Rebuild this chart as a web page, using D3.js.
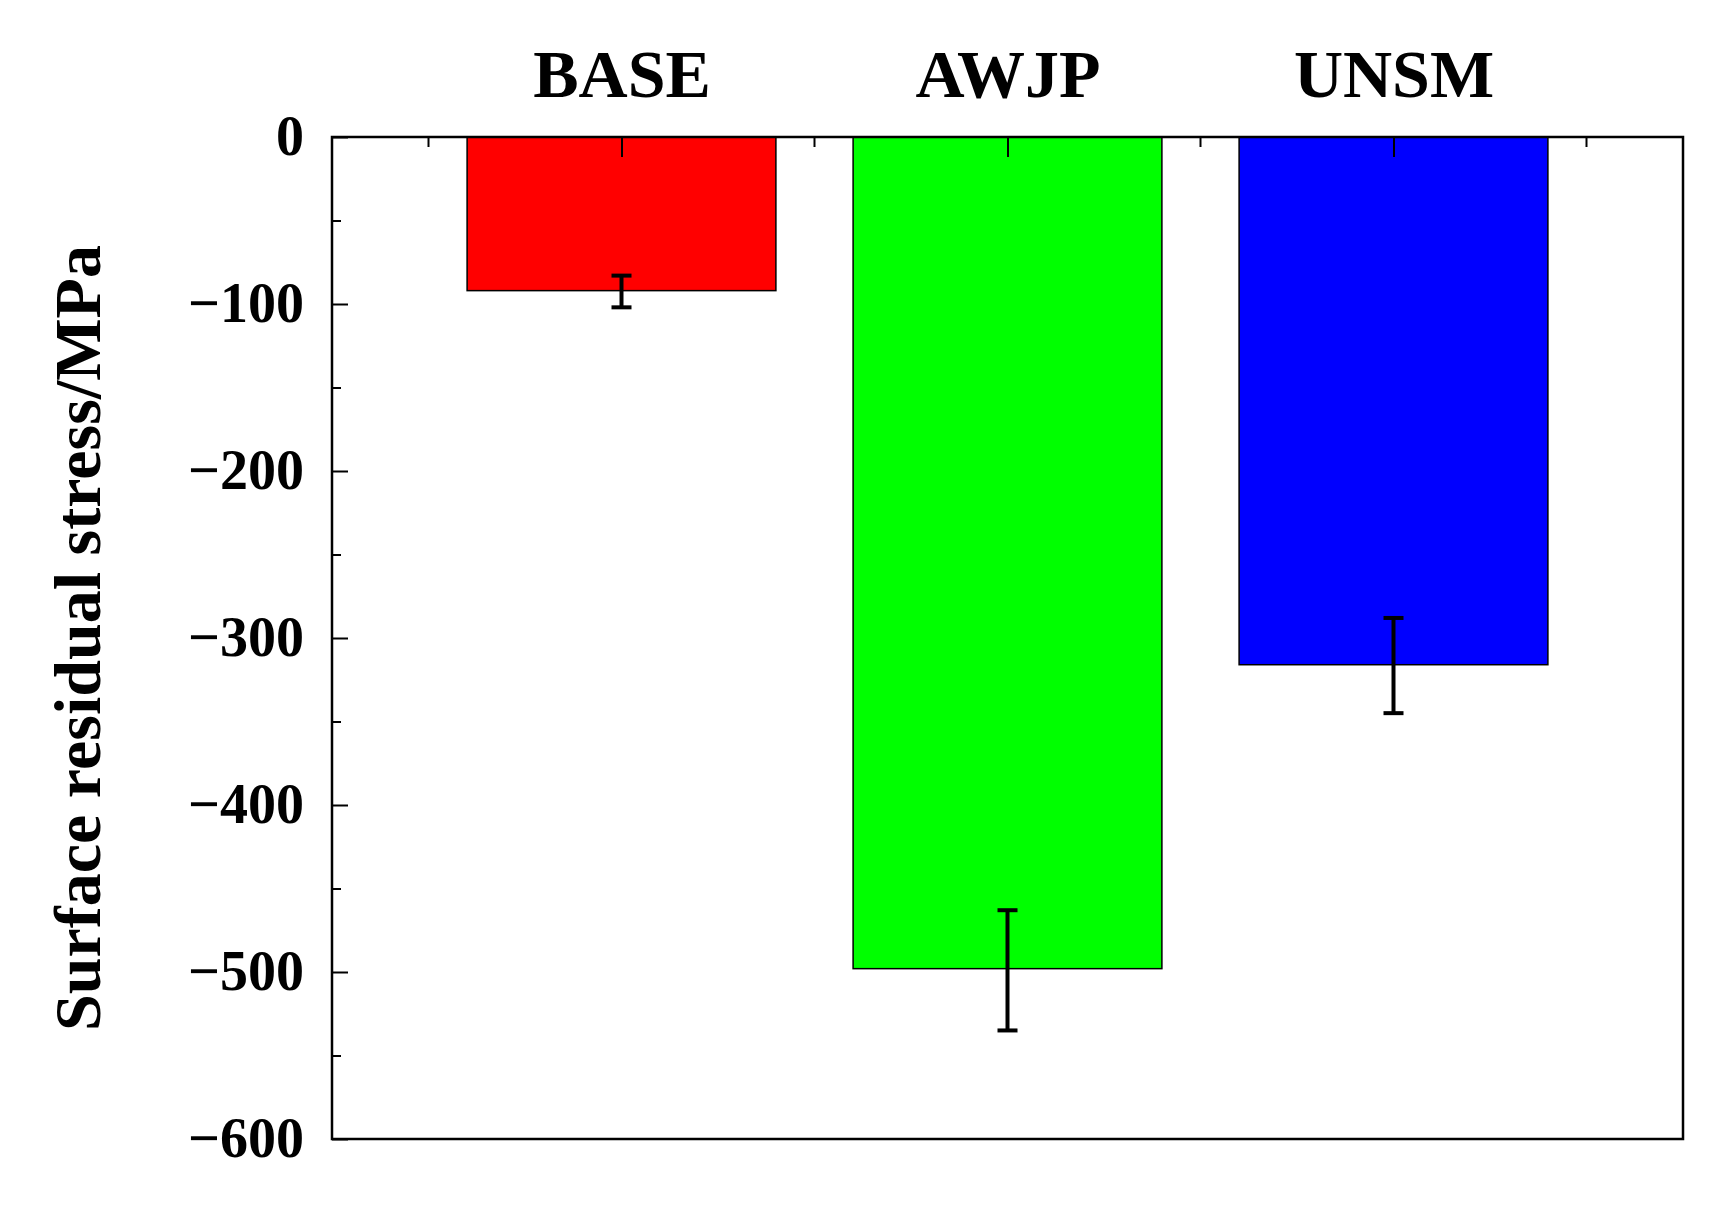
<!DOCTYPE html>
<html>
<head>
<meta charset="utf-8">
<script src="https://cdn.jsdelivr.net/npm/d3@7"></script>
<style>
body { margin: 0; background: #fff; }
text { font-family: "Liberation Serif", "Times New Roman", serif; font-weight: bold; }
</style>
</head>
<body>
<div id="chart"></div>
<script>
// data
const categories = ["BASE", "AWJP", "UNSM"];
const values = [-92, -498, -316];
const errUpper = [-83, -463, -288];
const errLower = [-102, -535, -345];
const colors = ["#ff0000", "#00ff00", "#0000ff"];
const yTicks = [0, -100, -200, -300, -400, -500, -600];

const margin = {top: 137, right: 30, bottom: 80, left: 332};
const W = 1713, H = 1219;
const width = 1683 - margin.left;
const height = 1139 - margin.top;

const svg = d3.select("#chart").append("svg")
  .attr("width", W).attr("height", H)
  .append("g")
  .attr("transform", `translate(${margin.left},${margin.top})`);

const x = d3.scalePoint().domain(categories).range([0, width]).padding(0.75);
const step = x.step();
const barW = step * 0.80;
const y = d3.scaleLinear().domain([-600, 0]).range([height, 0]);

// bars
svg.selectAll("rect.bar")
  .data(categories)
  .join("rect")
  .attr("class", "bar")
  .attr("x", d => x(d) - barW / 2)
  .attr("width", barW)
  .attr("y", y(0))
  .attr("height", (d, i) => y(values[i]) - y(0))
  .attr("fill", (d, i) => colors[i])
  .attr("stroke", "#000")
  .attr("stroke-width", 1.5);

// error bars
const cap = 10;
categories.forEach((c, i) => {
  const cx = x(c);
  svg.append("line").attr("x1", cx).attr("x2", cx)
    .attr("y1", y(errUpper[i])).attr("y2", y(errLower[i]))
    .attr("stroke", "#000").attr("stroke-width", 4);
  [errUpper[i], errLower[i]].forEach(v => {
    svg.append("line").attr("x1", cx - cap).attr("x2", cx + cap)
      .attr("y1", y(v)).attr("y2", y(v))
      .attr("stroke", "#000").attr("stroke-width", 4);
  });
});

// frame
svg.append("rect").attr("width", width).attr("height", height)
  .attr("fill", "none").attr("stroke", "#000").attr("stroke-width", 2.5);

// y axis: major + minor inward ticks
svg.append("g")
  .call(d3.axisLeft(y).tickValues(yTicks).tickSize(-16).tickPadding(28).tickFormat(d3.format("d")))
  .call(g => g.select(".domain").remove())
  .call(g => g.selectAll(".tick line").attr("stroke-width", 2))
  .selectAll(".tick text")
  .style("font-size", "56px")
  .attr("fill", "#000");

svg.append("g")
  .call(d3.axisLeft(y).tickValues(d3.range(-550, 0, 100)).tickSize(-9).tickFormat(""))
  .call(g => g.select(".domain").remove())
  .selectAll(".tick line").attr("stroke-width", 2);

// top axis: category ticks and minor ticks between
svg.append("g")
  .call(d3.axisTop(x).tickSize(-20).tickPadding(40))
  .call(g => g.select(".domain").remove())
  .call(g => g.selectAll(".tick line").attr("stroke-width", 2))
  .selectAll(".tick text")
  .style("font-size", "68px")
  .attr("fill", "#000");

const mids = [x(categories[0]) - step / 2].concat(categories.map(c => x(c) + step / 2));
svg.selectAll("line.minor")
  .data(mids)
  .join("line")
  .attr("x1", d => d).attr("x2", d => d)
  .attr("y1", 0).attr("y2", 10)
  .attr("stroke", "#000").attr("stroke-width", 2);

// y label
svg.append("text")
  .attr("transform", `translate(${77 - margin.left},${height / 2}) rotate(-90)`)
  .attr("text-anchor", "middle")
  .attr("dy", "0.35em")
  .style("font-size", "66px")
  .text("Surface residual stress/MPa");
</script>
</body>
</html>
